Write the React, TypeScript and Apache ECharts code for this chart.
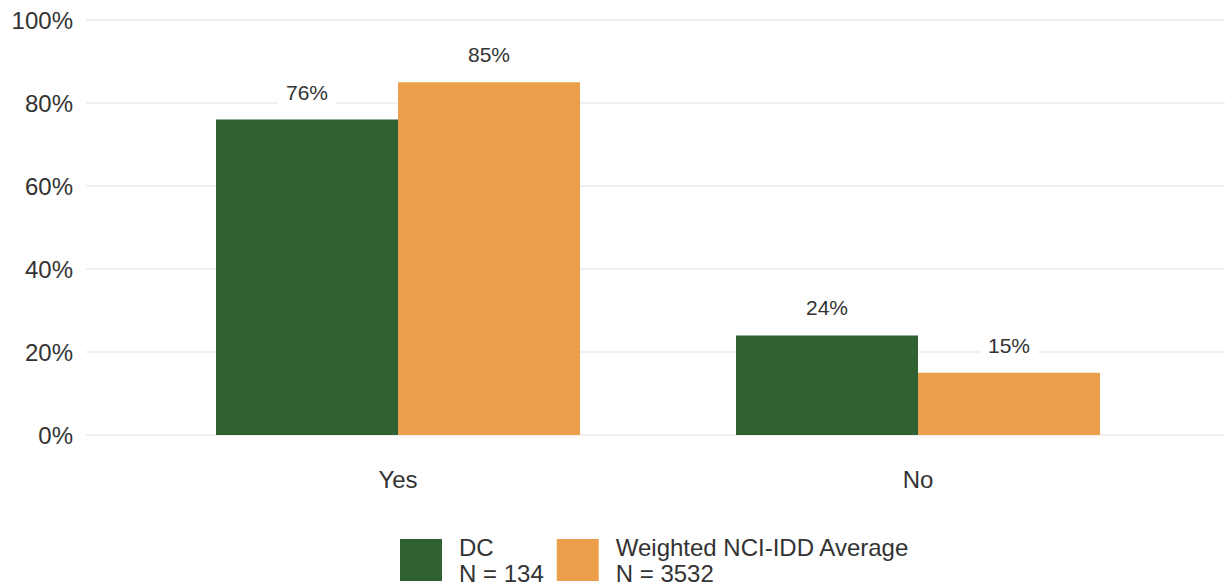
import React, { useEffect, useRef } from "react";
import * as echarts from "echarts";

const categories = ["Yes", "No"];
const dcValues = [76, 24];
const nciValues = [85, 15];
const yTicks = [0, 20, 40, 60, 80, 100];
const seriesNames = ["DC\nN = 134", "Weighted NCI-IDD Average\nN = 3532"];

const FONT = "'Liberation Sans', Arial, sans-serif";
const GREEN = "#316032";
const ORANGE = "#EB9F4B";

export default function App() {
  const ref = useRef<HTMLDivElement>(null);
  useEffect(() => {
    if (!ref.current) return;
    const chart = echarts.init(ref.current, undefined, { renderer: "svg" });
    const label = {
      show: true,
      position: "top",
      distance: 15,
      formatter: "{c}%",
      fontFamily: FONT,
      fontSize: 21,
      color: "#333333",
      backgroundColor: "#ffffff",
      padding: [2, 8],
    };
    chart.setOption({
      animation: false,
      textStyle: { fontFamily: FONT },
      grid: [
        { left: 86, right: 0, top: 20, bottom: 152 },
        { left: 138, right: 47, top: 20, bottom: 152 },
      ],
      xAxis: [
        { type: "category", gridIndex: 0, data: categories, show: false },
        {
          type: "category",
          gridIndex: 1,
          data: categories,
          axisLine: { show: false },
          axisTick: { show: false },
          axisLabel: { fontFamily: FONT, fontSize: 24, color: "#333333", margin: 32 },
        },
      ],
      yAxis: [
        {
          type: "value",
          gridIndex: 0,
          min: yTicks[0],
          max: yTicks[yTicks.length - 1],
          interval: 20,
          axisLine: { show: false },
          axisTick: { show: false },
          axisLabel: { formatter: "{value}%", fontFamily: FONT, fontSize: 24, color: "#333333", margin: 13 },
          splitLine: { lineStyle: { color: "#EBEBEB", width: 1.5 } },
        },
        {
          type: "value",
          gridIndex: 1,
          min: 0,
          max: 100,
          interval: 20,
          show: false,
          splitLine: { show: false },
        },
      ],
      legend: {
        left: 395,
        top: 529,
        itemWidth: 42,
        itemHeight: 42,
        itemGap: 13,
        icon: "rect",
        textStyle: { fontFamily: FONT, fontSize: 24, color: "#333333", lineHeight: 26, padding: [0, 0, 0, 12] },
        data: seriesNames,
      },
      series: [
        {
          name: seriesNames[0],
          type: "bar",
          xAxisIndex: 1,
          yAxisIndex: 1,
          data: dcValues,
          itemStyle: { color: GREEN },
          barGap: "0%",
          barCategoryGap: "30%",
          label,
        },
        {
          name: seriesNames[1],
          type: "bar",
          xAxisIndex: 1,
          yAxisIndex: 1,
          data: nciValues,
          itemStyle: { color: ORANGE },
          barGap: "0%",
          barCategoryGap: "30%",
          label,
        },
      ],
    });
    return () => chart.dispose();
  }, []);
  return (
    <div
      ref={ref}
      style={{ position: "fixed", left: 0, top: 0, width: 1225, height: 587, background: "#ffffff" }}
    />
  );
}
